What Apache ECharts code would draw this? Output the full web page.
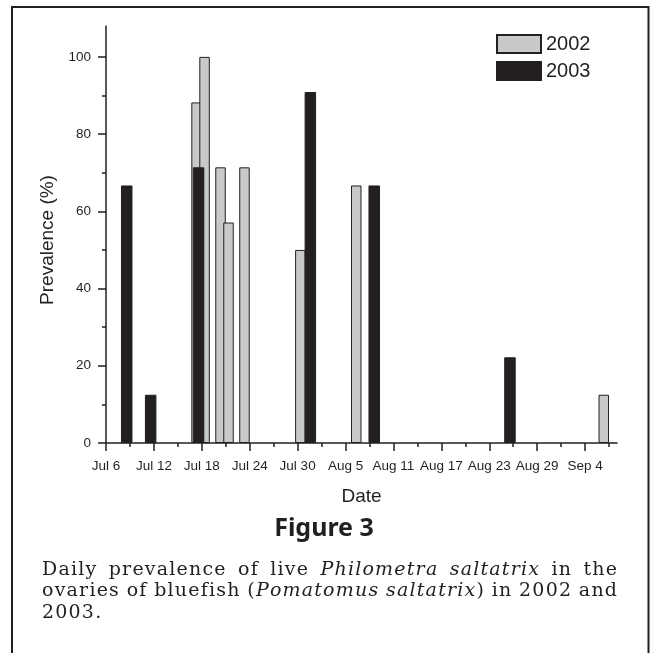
<!DOCTYPE html>
<html><head><meta charset="utf-8">
<script src="https://cdn.jsdelivr.net/npm/echarts@6/dist/echarts.min.js"></script>
<style>html,body{margin:0;padding:0;background:#fff}#c{width:650px;height:653px}</style>
</head><body><div id="c"></div>
<script>
// ---- data ----
const seriesNames = ['2002', '2003'];
const dates2002 = ['07-17', '07-18', '07-20', '07-21', '07-23', '07-30', '08-06', '09-06'];
const values2002 = [88.2, 100, 71.4, 57.1, 71.4, 50.0, 66.7, 12.5];
const dates2003 = ['07-08', '07-11', '07-17', '07-31', '08-08', '08-25'];
const values2003 = [66.7, 12.5, 71.4, 90.9, 66.7, 22.2];
const tickLabels = ['Jul 6', 'Jul 12', 'Jul 18', 'Jul 24', 'Jul 30', 'Aug 5', 'Aug 11', 'Aug 17', 'Aug 23', 'Aug 29', 'Sep 4'];
const yTickValues = [0, 20, 40, 60, 80, 100];
const yMinorValues = [10, 30, 50, 70, 90];
const xAxisTitle = 'Date';
const yAxisTitle = 'Prevalence (%)';
const figureTitle = 'Figure 3';
const captionLines = [
  'Daily prevalence of live *Philometra saltatrix* in the',
  'ovaries of bluefish (*Pomatomus saltatrix*) in 2002 and',
  '2003.'
];

// ---- helpers ----
const DAY_START = Date.UTC(2000, 6, 6);   // Jul 6
const X_SPAN_DAYS = 64;
const TICK_STEP = 6;
function dayOf(md) {
  const p = md.split('-').map(Number);
  return (Date.UTC(2000, p[0] - 1, p[1]) - DAY_START) / 86400000;
}
const majorX = tickLabels.map((_, i) => i * TICK_STEP);
const minorX = tickLabels.map((_, i) => i * TICK_STEP + TICK_STEP / 2);
const data2002 = dates2002.map((d, i) => [dayOf(d), values2002[i]]);
const data2003 = dates2003.map((d, i) => [dayOf(d), values2003[i]]);

const INK = '#231f20';
const GRAY = '#c8c9cb';
const SANS = '"Liberation Sans", Arial, sans-serif';
const SERIF = '"DejaVu Serif", serif';

// ---- caption (justified, slightly tracked) ----
const capSize = 19;
const capTrack = 1.2;
const capLeft = 42, capRight = 617;
const capY = [570, 591.5, 613];
const mctx = document.createElement('canvas').getContext('2d');
function fontStr(it) { return (it ? 'italic ' : '') + capSize + 'px ' + SERIF; }
function measure(t, it) { mctx.font = fontStr(it); return mctx.measureText(t).width; }
function parseLine(str) {
  const words = []; let italic = false;
  str.split(' ').forEach(w => {
    const chars = [];
    for (const ch of w) {
      if (ch === '*') { italic = !italic; continue; }
      chars.push({ t: ch, i: italic });
    }
    words.push(chars);
  });
  return words;
}
function wordWidth(chars) {
  return chars.reduce((a, c) => a + measure(c.t, c.i), 0) + capTrack * (chars.length - 1);
}
const captionGraphics = [];
captionLines.forEach((line, li) => {
  const words = parseLine(line);
  const widths = words.map(wordWidth);
  const total = widths.reduce((a, b) => a + b, 0);
  const justify = li < captionLines.length - 1 && words.length > 1;
  const gap = justify ? (capRight - capLeft - total) / (words.length - 1) : measure(' ', false) + capTrack;
  let x = capLeft;
  words.forEach((chars, wi) => {
    let sx = x;
    chars.forEach(c => {
      captionGraphics.push({
        type: 'text', x: sx, y: capY[li], silent: true,
        style: { text: c.t, fontSize: capSize, fontFamily: SERIF, fontStyle: c.i ? 'italic' : 'normal',
                 fill: INK, textAlign: 'left', textVerticalAlign: 'middle' }
      });
      sx += measure(c.t, c.i) + capTrack;
    });
    x += widths[wi] + gap;
  });
});

const chart = echarts.init(document.getElementById('c'), null, { renderer: 'canvas' });
const option = {
  animation: false,
  backgroundColor: '#fff',
  textStyle: { fontFamily: SANS, color: INK },
  grid: { left: 106, right: 33, top: 26, bottom: 210, containLabel: false },
  legend: {
    data: seriesNames, orient: 'vertical', left: 496, top: 34,
    itemWidth: 44, itemHeight: 18, itemGap: 7, icon: 'rect',
    textStyle: { fontSize: 20, fontFamily: SANS, color: INK }, padding: 0
  },
  xAxis: [
    { type: 'value', min: 0, max: X_SPAN_DAYS, position: 'bottom',
      name: xAxisTitle, nameLocation: 'middle', nameGap: 44,
      nameTextStyle: { fontSize: 19, color: INK, fontFamily: SANS },
      axisLine: { show: true, onZero: false, lineStyle: { color: INK, width: 1.5 } },
      axisTick: { show: true, length: 8, customValues: majorX, lineStyle: { color: INK, width: 1.5 } },
      axisLabel: { customValues: majorX, margin: 16, fontSize: 13.5, color: INK, fontFamily: SANS,
                   formatter: v => tickLabels[Math.round(v / TICK_STEP)] },
      splitLine: { show: false } },
    { type: 'value', min: 0, max: X_SPAN_DAYS, position: 'bottom',
      axisLine: { show: false },
      axisTick: { show: true, length: 4, customValues: minorX, lineStyle: { color: INK, width: 1.5 } },
      axisLabel: { show: false }, splitLine: { show: false } },
    // bar placement axis: each daily bar fills its day (centre at mid-day)
    { type: 'value', show: false, min: -0.5, max: X_SPAN_DAYS - 0.5, position: 'bottom' }
  ],
  yAxis: [
    { type: 'value', min: 0, max: 108, position: 'left',
      name: yAxisTitle, nameLocation: 'middle', nameGap: 48,
      nameTextStyle: { fontSize: 19, color: INK, fontFamily: SANS, padding: [0, 11, 0, 0] },
      axisLine: { show: true, onZero: false, lineStyle: { color: INK, width: 1.5 } },
      axisTick: { show: true, length: 8, customValues: yTickValues, lineStyle: { color: INK, width: 1.5 } },
      axisLabel: { customValues: yTickValues, margin: 15, fontSize: 13.5, color: INK, fontFamily: SANS },
      splitLine: { show: false } },
    { type: 'value', min: 0, max: 108, position: 'left',
      axisLine: { show: false },
      axisTick: { show: true, length: 4, customValues: yMinorValues, lineStyle: { color: INK, width: 1.5 } },
      axisLabel: { show: false }, splitLine: { show: false } }
  ],
  series: [
    { name: seriesNames[0], type: 'bar', xAxisIndex: 2, yAxisIndex: 0, data: data2002,
      barWidth: 10.5, barGap: '-85.7%',
      itemStyle: { color: GRAY, borderColor: INK, borderWidth: 1 } },
    { name: seriesNames[1], type: 'bar', xAxisIndex: 2, yAxisIndex: 0, data: data2003,
      barWidth: 11.5, barGap: '-85.7%',
      itemStyle: { color: INK, borderColor: INK, borderWidth: 1 } }
  ],
  graphic: [
    { type: 'polyline', silent: true,
      shape: { points: [[12, 660], [12, 7], [648.5, 7], [648.5, 660]] },
      style: { stroke: INK, lineWidth: 2, fill: null } },
    { type: 'text', x: 324, y: 529, silent: true,
      style: { text: figureTitle, fontSize: 25, fontWeight: 'bold', fontFamily: '"Noto Sans", sans-serif',
               fill: INK, textAlign: 'center', textVerticalAlign: 'middle' } }
  ].concat(captionGraphics)
};
chart.setOption(option);
</script>
</body></html>
